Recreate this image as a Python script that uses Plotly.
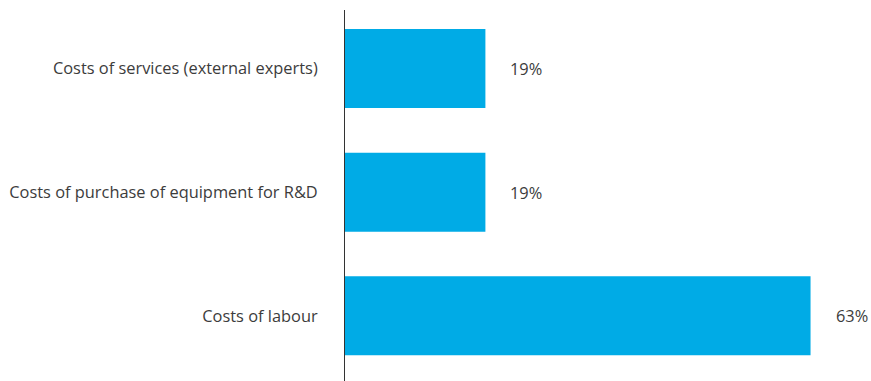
import plotly.graph_objects as go

# Cost categories (bottom to top) and their shares in percent
categories = [
    "Costs of labour",
    "Costs of purchase of equipment for R&D",
    "Costs of services (external experts)",
]
shares = [63, 19, 19]
share_labels = ["63%", "19%", "19%"]

BAR_COLOR = "#00ABE6"
TEXT_COLOR = "#3c3c3c"
FONT = "Open Sans"
FONT_SIZE = 16.4

fig = go.Figure(
    go.Bar(
        x=shares,
        y=categories,
        orientation="h",
        marker=dict(color=BAR_COLOR, line=dict(width=0)),
        hoverinfo="skip",
    )
)

# Value labels to the right of each bar
for cat, val, lab in zip(categories, shares, share_labels):
    fig.add_annotation(
        x=val,
        y=cat,
        text=lab,
        showarrow=False,
        xanchor="center",
        xshift=41,
        font=dict(family=FONT, size=FONT_SIZE, color=TEXT_COLOR),
    )

fig.update_layout(
    width=871,
    height=381,
    margin=dict(l=345, r=0, t=10, b=0),
    paper_bgcolor="white",
    plot_bgcolor="white",
    bargap=0.361,
    showlegend=False,
    font=dict(family=FONT, size=FONT_SIZE, color=TEXT_COLOR),
    xaxis=dict(
        range=[0, 71.18],
        visible=False,
        fixedrange=True,
    ),
    yaxis=dict(
        type="category",
        categoryorder="array",
        categoryarray=categories,
        range=[-0.527, 2.473],
        showline=True,
        linecolor="#333333",
        linewidth=1,
        showgrid=False,
        zeroline=False,
        ticks="",
        ticklabelstandoff=23,
        tickfont=dict(family=FONT, size=FONT_SIZE, color=TEXT_COLOR),
        fixedrange=True,
    ),
)

fig.write_html("out.html")
